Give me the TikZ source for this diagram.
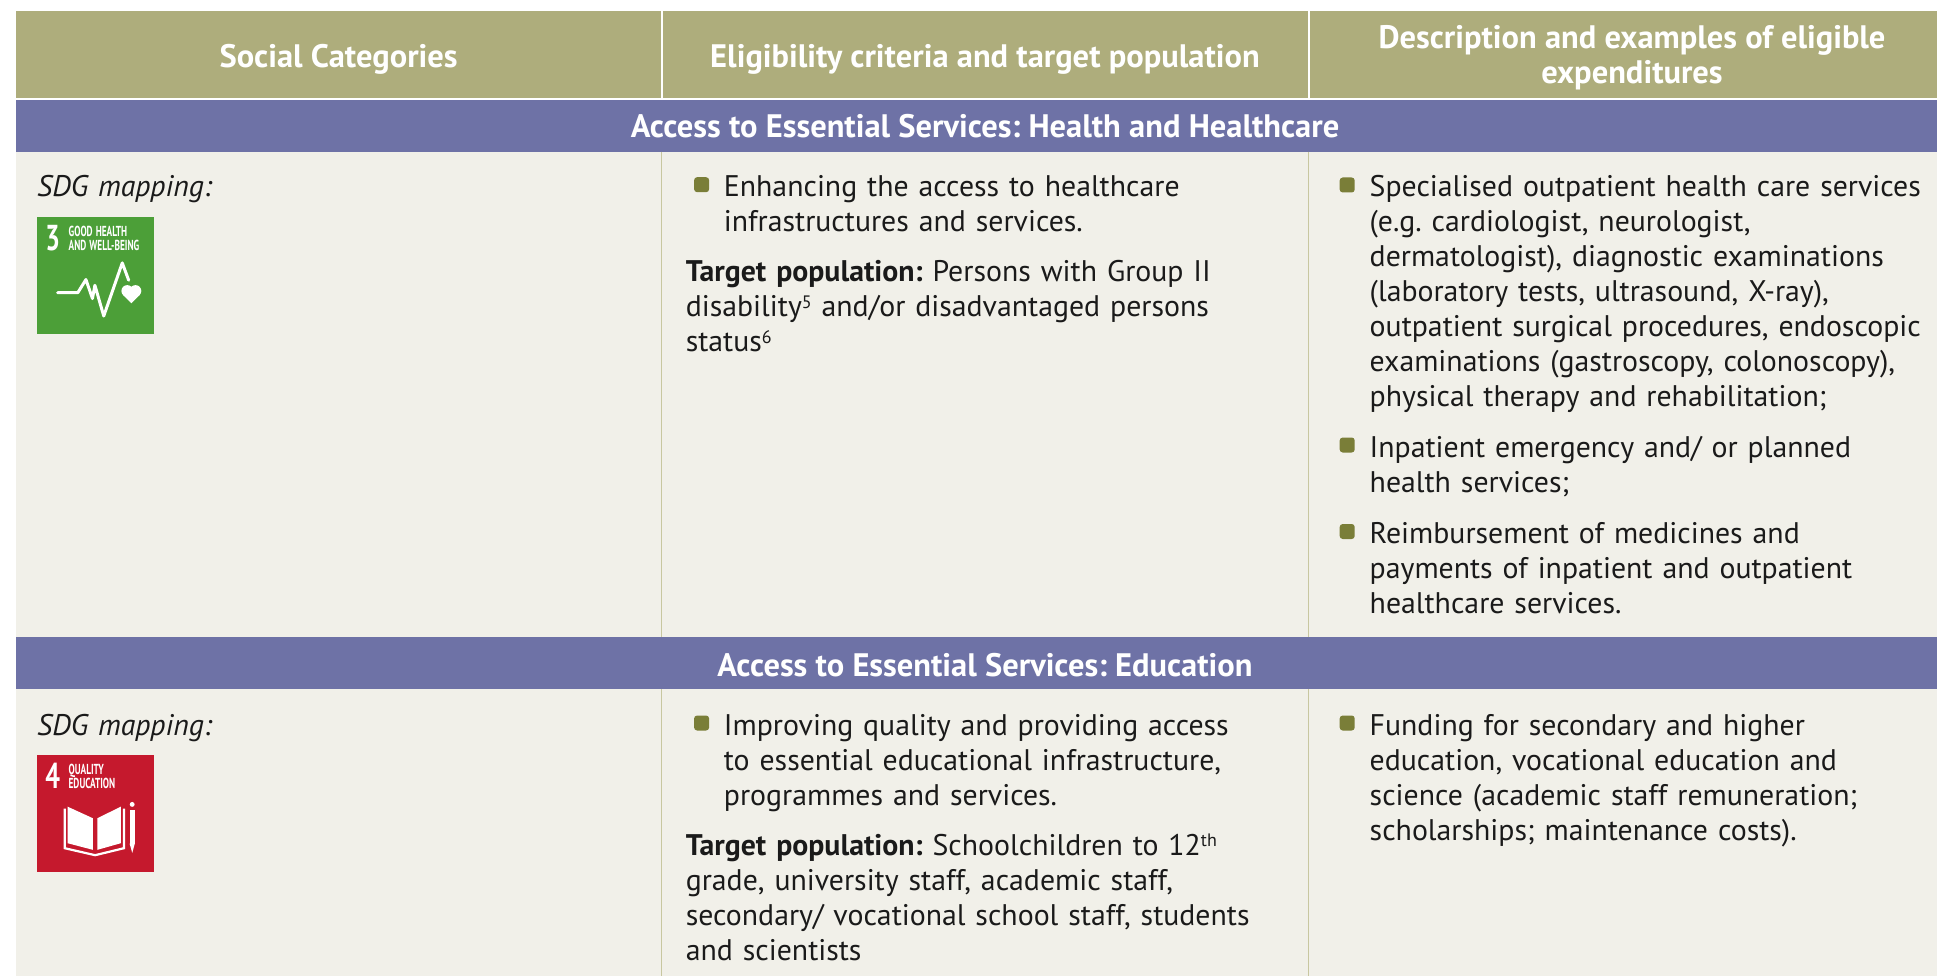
\documentclass[tikz,border=0pt]{standalone}
\usepackage{fontspec}
\setmainfont{PT Sans}
\usepackage{graphicx}
\definecolor{hdr}{HTML}{AEAD7C}
\definecolor{band}{HTML}{6E72A6}
\definecolor{bodybg}{HTML}{F1F0E9}
\definecolor{bul}{HTML}{7A7E38}
\definecolor{rulec}{HTML}{C8C7A0}
\definecolor{txt}{HTML}{1A1A1A}
\definecolor{sdggreen}{HTML}{4C9F38}
\definecolor{sdgred}{HTML}{C5192D}
\newcommand\supr[1]{\raisebox{8.5pt}{\fontsize{18}{18}\selectfont #1}}
\frenchspacing
\begin{document}
\begin{tikzpicture}[x=1pt,y=-1pt,
  hdrtxt/.style={text=white,font=\bfseries\fontsize{32.5}{35}\selectfont,inner sep=0,anchor=base},
  bandtxt/.style={text=white,font=\bfseries\fontsize{32.5}{35}\selectfont,inner sep=0,anchor=base},
  bodytxt/.style={text=txt,font=\frenchspacing\fontsize{29.8}{35}\selectfont,inner sep=0,anchor=base west,text width=620pt,align=left},
  bulletbox/.style={fill=bul,rounded corners=3pt,minimum width=15pt,minimum height=15pt,inner sep=0,draw=none},
  iconnum/.style={text=white,inner sep=0,anchor=base west,font=\bfseries\fontsize{36}{36}\selectfont},
  iconlab/.style={text=white,inner sep=0,anchor=base west,text width=100pt,align=left,font=\bfseries\fontsize{14.5}{14}\selectfont}]

\useasboundingbox (0,0) rectangle (1937,976);
\fill[white] (0,0) rectangle (1937,976);
% backgrounds
\fill[hdr] (15.6,11) rectangle (1937,97.7);
\fill[band] (15.6,100) rectangle (1937,151.7);
\fill[bodybg] (15.6,151.7) rectangle (1937,637);
\fill[band] (15.6,637) rectangle (1937,689.3);
\fill[bodybg] (15.6,689.3) rectangle (1937,976);
% column rules
\draw[white,line width=2pt] (661.6,11) -- (661.6,97.7);
\draw[white,line width=2pt] (1308.5,11) -- (1308.5,97.7);
\draw[rulec,line width=1.5pt] (661.6,151.7) -- (661.6,637);
\draw[rulec,line width=1.5pt] (1308.5,151.7) -- (1308.5,637);
\draw[rulec,line width=1.5pt] (661.6,689.3) -- (661.6,976);
\draw[rulec,line width=1.5pt] (1308.5,689.3) -- (1308.5,976);

% header texts
\node[hdrtxt] (h1) at (338.6,68) {Social Categories};
\node[hdrtxt] (h2) at (985,68) {Eligibility criteria and target population};
\node[hdrtxt] (h3a) at (1632,49) {Description and examples of eligible};
\node[hdrtxt] (h3b) at (1632,84) {expenditures};

% bands
\node[bandtxt] (s1) at (985,138) {Access to Essential Services: Health and Healthcare};
\node[bandtxt] (s2) at (985,676) {Access to Essential Services: Education};

% column 1
\node[bodytxt,font=\itshape\fontsize{29.8}{35}\selectfont] (m1) at (37,196.7) {SDG mapping:};
\node[bodytxt,font=\itshape\fontsize{29.8}{35}\selectfont] (m2) at (37,735) {SDG mapping:};

% SDG 3 icon
\fill[sdggreen] (37,217) rectangle (153.5,333.5);
\begin{scope}[shift={(37,217)},x=1.165pt,y=-1.165pt]
  \node[iconnum] (g3n) at (7,28.5) {\scalebox{0.72}[1]{3}};
  \node[iconlab] (g3a) at (27,17) {\scalebox{0.64}[1]{GOOD HEALTH}\\\scalebox{0.64}[1]{AND WELL-BEING}};
  \draw[white,line width=3pt,line join=round,line cap=round] (17.7,65) -- (35,65) -- (42,53.7) -- (47.6,70) -- (49.7,58.6) -- (57.3,85) -- (73.2,39.4) -- (78.7,54.3);
  \fill[white] (81,74.07) -- (73.93,67) -- (81,59.93) -- (88.07,67) -- cycle;
  \fill[white] (77.46,63.46) circle[radius=5];
  \fill[white] (84.54,63.46) circle[radius=5];
\end{scope}

% SDG 4 icon
\fill[sdgred] (37,755) rectangle (153.5,871.5);
\begin{scope}[shift={(37,755)},x=1.165pt,y=-1.165pt]
  \node[iconnum] (g4n) at (7,28.5) {\scalebox{0.72}[1]{4}};
  \node[iconlab] (g4a) at (27,17) {\scalebox{0.64}[1]{QUALITY}\\\scalebox{0.64}[1]{EDUCATION}};
  \fill[white] (26.2,44.3) -- (48,54.3) -- (48,81.4) -- (26.2,75.7) -- cycle;
  \fill[white] (51.8,54.3) -- (72,44.3) -- (72,75.7) -- (51.8,81.4) -- cycle;
  \draw[white,line width=2.2pt,line join=miter] (23.8,46) -- (23.8,80) -- (49.9,86) -- (74.6,80) -- (74.6,46);
  \fill[white] (81.7,42.4) circle[radius=2.1];
  \fill[white] (79.5,47) rectangle (84,76);
  \fill[white] (79.5,76) -- (84,76) -- (81.75,84) -- cycle;
\end{scope}

% column 2, row 1
\node[bulletbox] (b21) at (701.6,184.7) {};
\node[bodytxt] (e1) at (723.7,196.7) {Enhancing the access to healthcare\\infrastructures and services.};
\node[bodytxt] (t1) at (685.6,281.7) {\textbf{Target population:} Persons with Group II\\disability\supr{5} and/or disadvantaged persons\\status\supr{6}};

% column 3, row 1
\node[bulletbox] (b31) at (1347.2,185) {};
\node[bodytxt] (d1) at (1369.5,197) {Specialised outpatient health care services\\(e.g. cardiologist, neurologist,\\dermatologist), diagnostic examinations\\(laboratory tests, ultrasound, X-ray),\\outpatient surgical procedures, endoscopic\\examinations (gastroscopy, colonoscopy),\\physical therapy and rehabilitation;};
\node[bulletbox] (b32) at (1347.2,445) {};
\node[bodytxt] (d2) at (1369.5,457) {Inpatient emergency and/ or planned\\health services;};
\node[bulletbox] (b33) at (1347.2,531.5) {};
\node[bodytxt] (d3) at (1369.5,543.5) {Reimbursement of medicines and\\payments of inpatient and outpatient\\healthcare services.};

% column 2, row 2
\node[bulletbox] (b22) at (701.6,723) {};
\node[bodytxt] (e2) at (723.7,735) {Improving quality and providing access\\to essential educational infrastructure,\\programmes and services.};
\node[bodytxt] (t2) at (685.6,855) {\textbf{Target population:} Schoolchildren to 12\supr{th}\\grade, university staff, academic staff,\\secondary/ vocational school staff, students\\and scientists};

% column 3, row 2
\node[bulletbox] (b34) at (1347.2,723) {};
\node[bodytxt] (f1) at (1369.5,735) {Funding for secondary and higher\\education, vocational education and\\science (academic staff remuneration;\\scholarships; maintenance costs).};
\end{tikzpicture}
\end{document}
